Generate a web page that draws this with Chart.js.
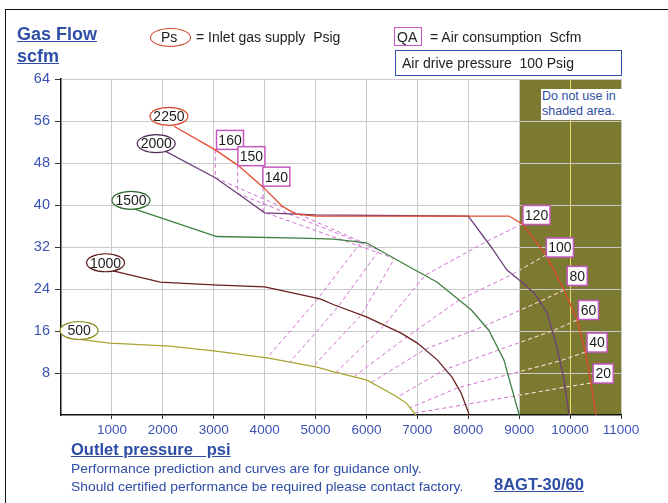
<!DOCTYPE html>
<html>
<head>
<meta charset="utf-8">
<script src="https://cdn.jsdelivr.net/npm/chart.js@4.4.1/dist/chart.umd.min.js"></script>
<style>
  body { margin: 0; background: #fff; font-family: Arial, "Liberation Sans", sans-serif; }
  #wrap { position: relative; width: 668px; height: 503px; overflow: hidden; }
  #chart { position: absolute; left: 0; top: 0; }
  .t { position: absolute; white-space: pre; line-height: 1; }
  .title { color: #2e4ea6; font-weight: bold; text-decoration: underline; }
  .blue { color: #2e4ea6; }
  .note { font-size: 13px; transform: scaleX(1.065); transform-origin: left top; }
</style>
</head>
<body>
<div id="wrap">
  <canvas id="chart" width="668" height="503"></canvas>
  <div style="position:absolute;left:5px;top:9px;width:700px;height:600px;border-left:1.5px solid #111;border-top:1.5px solid #111;"></div>

  <div class="t title" style="left:17px;top:25px;font-size:18px;">Gas Flow</div>
  <div class="t title" style="left:17px;top:47px;font-size:18px;">scfm</div>

  <div style="position:absolute;left:150px;top:28px;width:39px;height:17px;border:1px solid #d04a30;border-radius:50%;"></div>
  <div class="t" style="left:161px;top:30px;font-size:14px;color:#222;">Ps</div>
  <div class="t" style="left:196px;top:30px;font-size:14px;color:#222;">= Inlet gas supply  Psig</div>

  <div style="position:absolute;left:394px;top:27px;width:26px;height:17px;border:1.5px solid #c458c0;"></div>
  <div class="t" style="left:397px;top:30px;font-size:14px;color:#222;">QA</div>
  <div class="t" style="left:430px;top:30px;font-size:14px;color:#222;">= Air consumption  Scfm</div>

  <div style="position:absolute;left:395px;top:50px;width:225px;height:24px;border:1px solid #3050b0;"></div>
  <div class="t" style="left:402px;top:56px;font-size:14px;color:#222;">Air drive pressure  100 Psig</div>

  <div class="t blue" style="left:541px;top:89px;width:82px;height:31px;background:#fff;font-size:12.5px;line-height:15px;padding-left:1px;">Do not use in
shaded area.</div>

  <div class="t title" style="left:71px;top:441px;font-size:16.5px;">Outlet pressure   psi</div>
  <div class="t blue note" style="left:71px;top:462px;">Performance prediction and curves are for guidance only.</div>
  <div class="t blue note" style="left:71px;top:480px;">Should certified performance be required please contact factory.</div>
  <div class="t title" style="left:494px;top:476px;font-size:16.5px;">8AGT-30/60</div>
</div>

<script>
// inlet gas supply curves (outlet psi, scfm)
const inletLabels = ['2250', '2000', '1500', '1000', '500'];
const curve2250 = [[2220, 55], [3030, 50.5], [3470, 47.6], [3970, 43.4], [4340, 39.8], [4600, 38.3], [5000, 37.9],
  [8800, 37.9], [9060, 36.4], [9530, 30.5], [9880, 23.8], [10140, 18.1], [10300, 12], [10410, 6.1], [10510, 0]];
const curve2000 = [[2000, 50.5], [3030, 45.2], [3470, 42.2], [4000, 38.5], [5000, 38.1], [8000, 37.9], [8450, 32],
  [8760, 27.6], [9000, 25.7], [9300, 23.2], [9550, 19.4], [9740, 13], [9880, 6.7], [9980, 0]];
const curve1500 = [[1450, 39.2], [3060, 34], [4700, 33.7], [5360, 33.5], [6000, 32.8], [6680, 29.1], [7390, 25.3],
  [7820, 21.9], [8060, 20], [8400, 16.2], [8700, 10.5], [9000, 0]];
const curve1000 = [[960, 27.6], [1950, 25.3], [2990, 24.8], [4000, 24.4], [5090, 22.1], [5360, 21], [6000, 18.7],
  [6680, 15.6], [7000, 13.7], [7390, 10.5], [7680, 7.2], [7860, 4.2], [8020, 0]];
const curve500 = [[280, 14.5], [960, 13.7], [2140, 13.1], [3000, 12.2], [4050, 10.9], [5030, 9.1], [5360, 8.2],
  [6000, 6.7], [6540, 3.8], [6780, 2.3], [6970, 0]];

// air consumption lines (QA, scfm)
const qaLabels = ['160', '150', '140', '120', '100', '80', '60', '40', '20'];
const qa160 = [[3030, 50.5], [3030, 45.2], [5900, 33.0], [5050, 22.2], [4050, 10.9]];
const qa150 = [[3470, 47.6], [3470, 42.2], [6250, 31.4], [5450, 20.7], [4500, 10.1]];
const qa140 = [[3970, 43.4], [3970, 38.7], [6550, 29.8], [5900, 19.1], [4950, 9.2]];
const qa120 = [[9060, 36.4], [8370, 33.1], [7150, 26.6], [6350, 17.1], [5400, 8.1]];
const qa100 = [[9530, 30.5], [8850, 26.7], [7820, 21.9], [6800, 14.9], [5750, 7.3]];
const qa80 = [[9880, 23.8], [9400, 21.6], [8330, 17.0], [7150, 12.5], [6100, 6.2]];
const qa60 = [[10140, 18.1], [9650, 16.0], [8600, 12.4], [7550, 8.7], [6600, 3.4]];
const qa40 = [[10300, 12], [9800, 10.3], [8780, 7.7], [7800, 5.2], [6860, 1.4]];
const qa20 = [[10410, 6.1], [9900, 5.3], [8900, 3.6], [7950, 2.0], [6960, 0.4]];

const xTicks = [1000, 2000, 3000, 4000, 5000, 6000, 7000, 8000, 9000, 10000, 11000];
const yTicks = [8, 16, 24, 32, 40, 48, 56, 64];
const shadedFrom = 9000;

const curves = [curve2250, curve2000, curve1500, curve1000, curve500];
const qaLines = [qa160, qa150, qa140, qa120, qa100, qa80, qa60, qa40, qa20];

const curveColors = ['#e24a2a', '#6e3f78', '#3f7f3f', '#6a1f1f', '#a8a530'];
const ringColors = ['#d84a30', '#4a2a50', '#2f6a2f', '#5a1a1a', '#8a8a20'];
// label anchors in data units
const ringAt = [[2120, 56.9], [1870, 51.7], [1375, 40.9], [875, 29.0], [355, 16.1]];
const boxAt = [[3320, 52.4], [3740, 49.3], [4230, 45.4], [9340, 38.1], [9800, 31.9], [10140, 26.5], [10360, 20.0], [10530, 13.8], [10650, 7.9]];

const toPts = arr => arr.map(p => ({ x: p[0], y: p[1] }));

const datasets = [];
curves.forEach((c, i) => datasets.push({
  label: inletLabels[i], data: toPts(c), borderColor: curveColors[i], borderWidth: 1.3,
  pointRadius: 0, showLine: true, order: 0
}));
qaLines.forEach((q, i) => datasets.push({
  label: 'QA ' + qaLabels[i], data: toPts(q), borderColor: '#d070d0', borderWidth: 1,
  borderDash: [4, 3], pointRadius: 0, showLine: true, order: 1, isQA: true
}));

const shadePlugin = {
  id: 'shade',
  beforeDraw(chart) {
    const { ctx, chartArea: a, scales: { x } } = chart;
    const x0 = x.getPixelForValue(shadedFrom);
    ctx.save();
    ctx.fillStyle = '#7b7a30';
    ctx.fillRect(x0, a.top, a.right - x0, a.bottom - a.top);
    ctx.restore();
  },
  afterDatasetDraw(chart, args) {
    const ds = chart.data.datasets[args.index];
    if (!ds.isQA) return;
    const { ctx, chartArea: a, scales: { x } } = chart;
    const x0 = x.getPixelForValue(shadedFrom);
    const pts = args.meta.data;
    ctx.save();
    ctx.beginPath();
    ctx.rect(x0, a.top, a.right - x0, a.bottom - a.top);
    ctx.clip();
    ctx.strokeStyle = '#f2eeb8';
    ctx.lineWidth = 1;
    ctx.setLineDash([4, 3]);
    ctx.beginPath();
    pts.forEach((p, i) => i ? ctx.lineTo(p.x, p.y) : ctx.moveTo(p.x, p.y));
    ctx.stroke();
    ctx.restore();
  }
};

const labelPlugin = {
  id: 'labels',
  afterDatasetsDraw(chart) {
    const { ctx, scales: { x, y } } = chart;
    ctx.save();
    ctx.textAlign = 'center';
    ctx.textBaseline = 'middle';
    ringAt.forEach((p, i) => {
      const cx = x.getPixelForValue(p[0]), cy = y.getPixelForValue(p[1]);
      ctx.beginPath();
      ctx.ellipse(cx, cy, 19, 9, 0, 0, Math.PI * 2);
      ctx.fillStyle = '#fff';
      ctx.fill();
      ctx.lineWidth = 1.2;
      ctx.strokeStyle = ringColors[i];
      ctx.stroke();
      ctx.fillStyle = '#1c1c1c';
      ctx.font = '14px Arial, "Liberation Sans"';
      ctx.fillText(inletLabels[i], cx, cy + 1);
    });
    boxAt.forEach((p, i) => {
      const cx = x.getPixelForValue(p[0]), cy = y.getPixelForValue(p[1]);
      const w = qaLabels[i].length > 2 ? 27 : 20, h = 19;
      ctx.fillStyle = '#fff';
      ctx.fillRect(cx - w / 2, cy - h / 2, w, h);
      ctx.lineWidth = 1.5;
      ctx.strokeStyle = '#c458c0';
      ctx.strokeRect(cx - w / 2, cy - h / 2, w, h);
      ctx.fillStyle = '#1c1c1c';
      ctx.font = '14px Arial, "Liberation Sans"';
      ctx.fillText(qaLabels[i], cx, cy + 1);
    });
    ctx.restore();
  }
};

const gridColor = c => (c.tick && c.tick.value === 10000) ? '#e6df6a' : '#c9c9c9';

new Chart(document.getElementById('chart'), {
  type: 'scatter',
  data: { datasets },
  options: {
    responsive: false,
    animation: false,
    devicePixelRatio: 1,
    layout: { padding: { left: 0, top: 79, right: 47, bottom: 0 } },
    plugins: { legend: { display: false }, tooltip: { enabled: false } },
    scales: {
      x: {
        type: 'linear', min: 0, max: 11000,
        afterBuildTicks: s => { s.ticks = xTicks.map(v => ({ value: v })); },
        afterFit: s => { s.height = 88; },
        ticks: { color: '#3a52b2', font: { family: 'Arial, "Liberation Sans"', size: 13.5 }, padding: 3, maxRotation: 0,
          callback: v => String(v) },
        grid: { color: gridColor, tickColor: '#333', tickLength: 4, lineWidth: 1 },
        border: { color: '#111', width: 1.5 }
      },
      y: {
        type: 'linear', min: 0, max: 64,
        afterBuildTicks: s => { s.ticks = yTicks.map(v => ({ value: v })); },
        afterFit: s => { s.width = 61; },
        ticks: { color: '#3a52b2', font: { family: 'Arial, "Liberation Sans"', size: 14.5 }, padding: 5,
          callback: v => String(v) },
        grid: { color: '#c9c9c9', tickColor: '#333', tickLength: 6, lineWidth: 1 },
        border: { color: '#111', width: 1.5 }
      }
    }
  },
  plugins: [shadePlugin, labelPlugin]
});
</script>
</body>
</html>
